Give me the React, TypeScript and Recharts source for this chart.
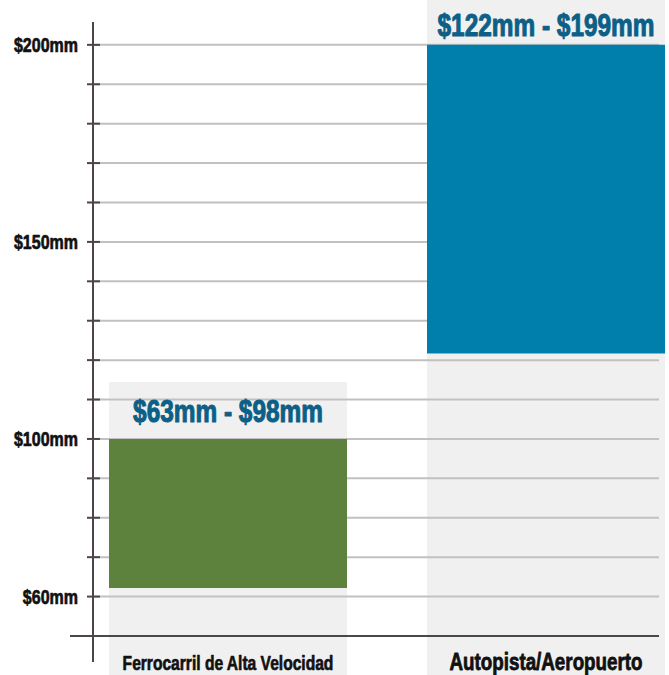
import { BarChart, Bar, XAxis, YAxis, CartesianGrid, ReferenceLine, Cell, LabelList } from 'recharts';

const categories = ['Ferrocarril de Alta Velocidad', 'Autopista/Aeropuerto'];
const barLow = [62.2, 121.7];
const barHigh = [100, 200];
const rangeLabels = ['$63mm - $98mm', '$122mm - $199mm'];
const yTicks = [60, 70, 80, 90, 100, 110, 120, 130, 140, 150, 160, 170, 180, 190, 200];
const yLabeled = [60, 100, 150, 200];
const yDomain = [43.4, 205.8];

const data = categories.map((name, i) => ({
  name,
  range: [barLow[i], barHigh[i]],
  high: barHigh[i],
  label: rangeLabels[i],
}));

const W = 669;
const H = 675;
const FONT = "'Liberation Sans', Arial, sans-serif";
const SQUEEZE = 0.8; // condensed look
const AXIS = '#4d4646';
const GRID = '#c4c0c0';
const BAND = '#f0f0f0';
const LABEL = '#0c5f86';
const barColors = ['#5c823e', '#007eac'];
const labelGap = [16.5, 8.5];
const catSize = [19.5, 23.5];

// squeezed heavy text
const Txt = ({ x, y, size, anchor = 'middle', fill = '#111', children }: any) => (
  <text transform={`translate(${x},${y}) scale(${SQUEEZE},1)`} textAnchor={anchor}
    fontFamily={FONT} fontWeight={700} fontSize={size} fill={fill}
    stroke={fill} strokeWidth={size / 30} strokeLinejoin="round">
    {children}
  </text>
);

const BandShape = (props: any) => {
  const { x, y, width } = props;
  const top = y - 57;
  return <rect x={x} y={top} width={width} height={H - top} fill={BAND} />;
};

const YTick = ({ x, y, payload }: any) => (
  <g>
    <line x1={x - 6} x2={x + 7} y1={y} y2={y} stroke={AXIS} strokeWidth={2} />
    {yLabeled.includes(payload.value) && (
      <Txt x={x - 15} y={y + 7} size={20} anchor="end">${payload.value}mm</Txt>
    )}
  </g>
);

// category names sit on the bottom strip of the chart
const XTick = ({ x, payload, index }: any) => (
  <Txt x={x} y={H - 5.5} size={catSize[index]}>{payload.value}</Txt>
);

const RangeLabel = ({ x, y, width, value, index }: any) => (
  <Txt x={x + width / 2} y={y - labelGap[index]} size={30.5} fill={LABEL}>{value}</Txt>
);

const XAxisLine = (props: any) => (
  <line x1={props.x1 - 23} x2={props.x2} y1={props.y1} y2={props.y2} stroke={AXIS} strokeWidth={2} />
);

// grid only at the tick values, not at the plot edges
const gridRows = ({ yAxis, offset }: any) => {
  const s = yAxis && yAxis.scale;
  return yTicks.map((t) => {
    if (typeof s === 'function') return s(t);
    if (s && typeof s.map === 'function') return s.map(t);
    return offset.top + ((yDomain[1] - t) / (yDomain[1] - yDomain[0])) * offset.height;
  });
};

export default function App() {
  const pad = { left: -24, right: -46 };
  return (
    <div>
      <style>{'body{margin:0}'}</style>
      <BarChart width={W} height={H} data={data} margin={{ top: 22, right: 10, bottom: 0, left: 0 }} barCategoryGap={40}>
        <XAxis xAxisId="band" dataKey="name" hide padding={pad} />
        <XAxis xAxisId="main" dataKey="name" padding={pad} height={13} axisLine={false} tickLine={false}
          tickSize={0} tickMargin={0} interval={0} tick={<XTick />} />
        <YAxis domain={yDomain} ticks={yTicks} interval={0} width={93} tickSize={0} tickMargin={0}
          tickLine={false} axisLine={{ stroke: AXIS, strokeWidth: 2 }} tick={<YTick />} />
        <Bar xAxisId="band" dataKey="high" shape={<BandShape />} isAnimationActive={false} zIndex={-150} />
        <CartesianGrid xAxisId="main" vertical={false} stroke={GRID} strokeWidth={2}
          horizontalCoordinatesGenerator={gridRows} />
        <ReferenceLine xAxisId="main" y={50} shape={<XAxisLine />} />
        <Bar xAxisId="main" dataKey="range" isAnimationActive={false}>
          {data.map((d, i) => (
            <Cell key={d.name} fill={barColors[i]} />
          ))}
          <LabelList dataKey="label" content={<RangeLabel />} />
        </Bar>
      </BarChart>
    </div>
  );
}
